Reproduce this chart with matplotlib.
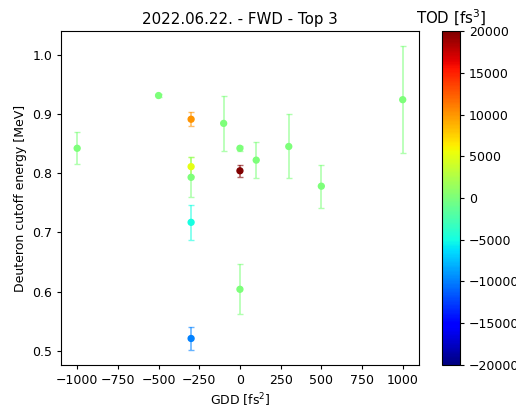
import matplotlib
matplotlib.use("Agg")
import matplotlib.pyplot as plt
import numpy as np

# GDD [fs^2], cutoff energy [MeV], error [MeV], TOD [fs^3]
gdd = [-1000, -500, -300, -300, -300, -300, -300, -100, 0, 0, 0, 100, 300, 500, 1000]
energy = [0.842, 0.931, 0.891, 0.811, 0.793, 0.717, 0.521, 0.884, 0.842, 0.804, 0.604, 0.822, 0.845, 0.778, 0.924]
energy_err = [0.027, 0.003, 0.012, 0.016, 0.034, 0.030, 0.019, 0.047, 0.004, 0.010, 0.042, 0.031, 0.054, 0.036, 0.090]
tod = [0, 0, 10000, 5000, 0, -5000, -10000, 0, 0, 20000, 0, 0, 0, 0, 0]

# original figure looks rendered at ~0.9 scale
plt.rcParams.update({
    "font.size": 9,
    "axes.titlesize": 10.8,
    "xtick.major.size": 3.15,
    "ytick.major.size": 3.15,
    "xtick.major.pad": 3.15,
    "ytick.major.pad": 3.15,
    "axes.labelpad": 3.6,
    "axes.titlepad": 5.4,
})

fig = plt.figure(figsize=(5.16, 4.05), dpi=100)
ax = fig.add_axes([0.118, 0.099, 0.694, 0.824])
cax = fig.add_axes([0.857, 0.099, 0.035, 0.824])

cmap = plt.get_cmap("jet")
norm = matplotlib.colors.Normalize(vmin=-20000, vmax=20000)

for x, y, e, t in zip(gdd, energy, energy_err, tod):
    c = cmap(norm(t))
    ax.errorbar(x, y, yerr=e, fmt="none", ecolor=c, alpha=0.6, capsize=2.5, elinewidth=1.2)

sc = ax.scatter(gdd, energy, c=tod, cmap=cmap, norm=norm, s=18, zorder=3)

ax.set_title("2022.06.22. - FWD - Top 3")
ax.set_xlabel("GDD [fs$^2$]")
ax.set_ylabel("Deuteron cutoff energy [MeV]")

cbar = fig.colorbar(sc, cax=cax)
cbar.ax.set_title("TOD [fs$^3$]")

fig.savefig("out.png", dpi=100)
